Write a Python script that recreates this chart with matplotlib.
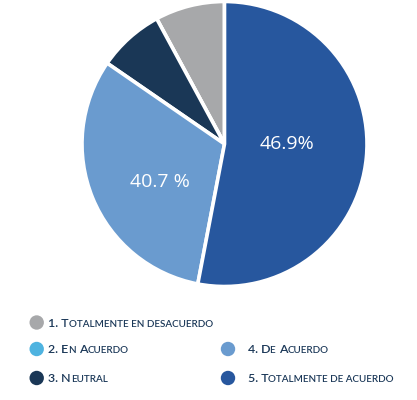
import matplotlib
matplotlib.use("Agg")
import matplotlib.pyplot as plt
from matplotlib.font_manager import FontProperties

# ---- data ----
categories = ["1. Totalmente en desacuerdo", "2. En Acuerdo", "3. Neutral",
              "4. De Acuerdo", "5. Totalmente de acuerdo"]
# slice shares as drawn in the reference
values = [7.9, 0.0, 7.5, 31.6, 53.0]
slice_labels = ["", "", "", "40.7 %", "46.9%"]
colors = ["#A7A8AA", "#4EB3E0", "#1A3756", "#6A9BCF", "#27579E"]

W, H = 417, 400
fig = plt.figure(figsize=(W / 100, H / 100), dpi=100)
fig.patch.set_facecolor("white")

# pie axes (pixel box: left 82, right 367, top 1.5, bottom 286.5)
ax = fig.add_axes([82 / W, (H - 286.5) / H, 285 / W, 285 / H])
ax.pie(values, colors=colors, startangle=90, counterclock=True,
       radius=1.0, wedgeprops=dict(edgecolor="white", linewidth=2.6))
ax.set_xlim(-1.0, 1.0)
ax.set_ylim(-1.0, 1.0)
ax.set_aspect("equal")
ax.axis("off")

label_pos = {3: (-0.45, -0.27), 4: (0.44, 0.0)}
for i, (px, py) in label_pos.items():
    ax.text(px, py, slice_labels[i], color="white", fontsize=14,
            family="Open Sans", ha="center", va="center")

# ---- legend with small caps emulation ----
text_color = "#1B3858"
renderer = fig.canvas.get_renderer()
FONT = "Lato"
WEIGHT = "semibold"


def advance(txt, fs):
    prop = FontProperties(family=FONT, size=fs, weight=WEIGHT)
    w1, _, _ = renderer.get_text_width_height_descent("|" + txt + "|", prop, False)
    w0, _, _ = renderer.get_text_width_height_descent("||", prop, False)
    return w1 - w0


def smallcaps(x, y, s, size):
    """Draw s at pixel (x, baseline y-from-top) emulating small caps."""
    cur = x
    runs = []
    for ch in s:
        kind = "small" if ch.islower() else "full"
        if ch == " " and runs:
            kind = runs[-1][0]
        if runs and runs[-1][0] == kind:
            runs[-1][1] += ch
        else:
            runs.append([kind, ch])
    for kind, txt in runs:
        fs = size * 0.8 if kind == "small" else size
        t = txt.upper()
        fig.text(cur / W, (H - y) / H, t, fontsize=fs,
                 family=FONT, weight=WEIGHT, color=text_color,
                 ha="left", va="baseline")
        cur += advance(t, fs)


legend_items = [
    (0, 36.7, 322.5),
    (1, 36.7, 349),
    (2, 36.7, 378),
    (3, 228, 349),
    (4, 228, 378),
]
for idx, mx, my in legend_items:
    fig.patches.append(matplotlib.patches.Circle(
        (mx, H - my), 7.2, transform=None, facecolor=colors[idx],
        edgecolor="none"))
    tx = 48.5 if mx < 100 else 248
    smallcaps(tx, my + 4.4, categories[idx], 8.9)

fig.savefig("out.png", dpi=100, facecolor="white")
